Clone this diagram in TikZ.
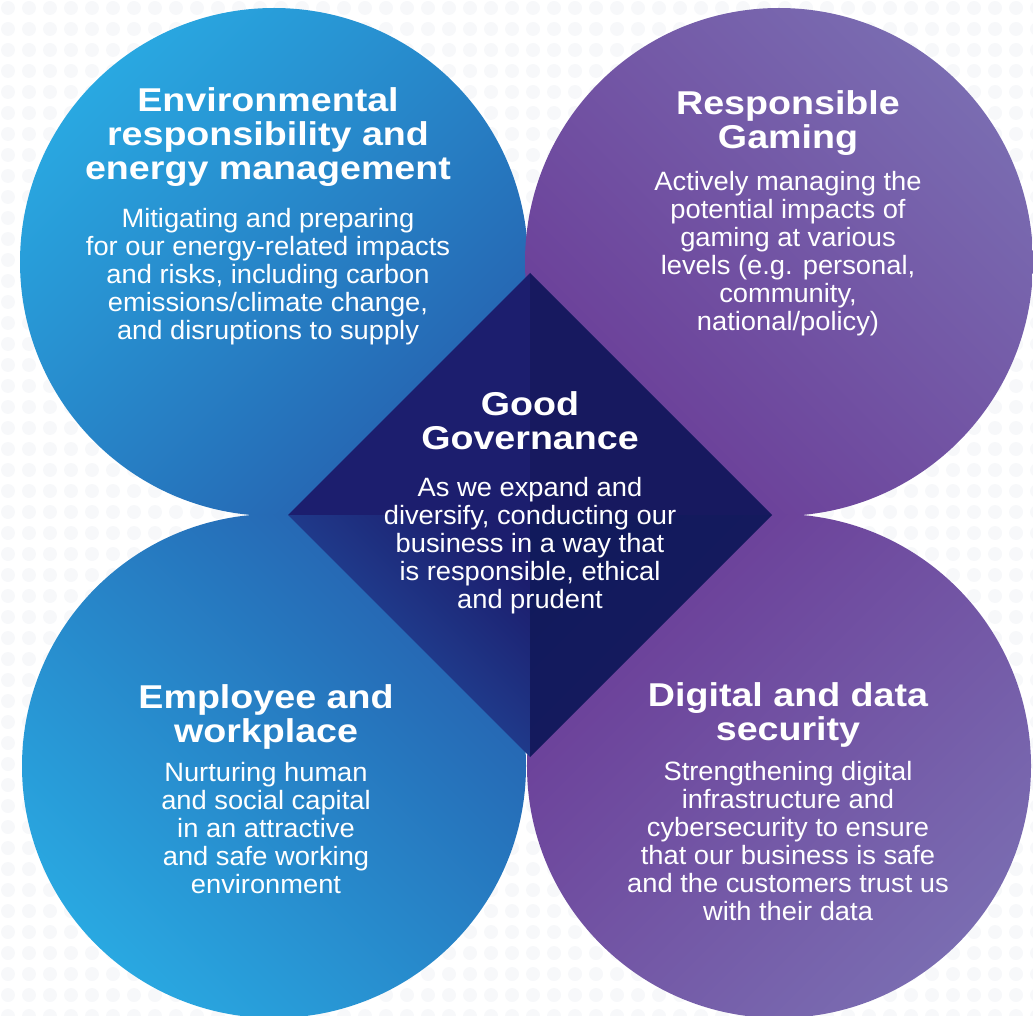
\documentclass[tikz,border=0pt]{standalone}
\usepackage{fontspec}
\setmainfont{Liberation Sans}
\newfontfamily\headfont[FakeStretch=1.14]{Liberation Sans}
\newfontfamily\bodyfont[FakeStretch=1.03]{Liberation Sans}
\usepackage{tikz}

\definecolor{blueLight}{HTML}{29A8E1}
\definecolor{blueDark}{HTML}{2560AE}
\definecolor{purpleLight}{HTML}{7A6CB1}
\definecolor{purpleDark}{HTML}{6A3C97}
\definecolor{navyA}{HTML}{1C1E6E}
\definecolor{navyB}{HTML}{17195F}
\definecolor{navyC}{HTML}{2355A6}
\definecolor{navyD}{HTML}{111A5C}
\definecolor{dotgray}{HTML}{F7F8FA}

\tikzset{
    headtext/.style={text=white, align=center, inner sep=0pt, font=\headfont\bfseries\fontsize{33}{34}\selectfont},
    bodytext/.style={text=white, align=center, inner sep=0pt, font=\bodyfont\fontsize{26.5}{28}\selectfont},
}

\begin{document}
\begin{tikzpicture}[x=1pt,y=-1pt]
        \useasboundingbox (0,0) rectangle (1033,1016);
        \foreach \i in {0,...,49}
            \foreach \j in {0,...,48}
                \fill[dotgray] (8+21*\i, 8+21*\j) circle (7pt);
        % four circles
        \shade[top color=blueLight, bottom color=blueDark, shading angle=45] (274,262) circle (254pt);
        \shade[top color=blueLight, bottom color=blueDark, shading angle=135] (274,766) circle (252pt);
        \shade[top color=purpleLight, bottom color=purpleDark, shading angle=-45] (779,262) circle (254pt);
        \shade[top color=purpleDark, bottom color=purpleLight, shading angle=45] (779,766) circle (252pt);
        % centre diamond
        \coordinate (mid) at (530,515);
        \coordinate (dTop) at (530,273);
        \coordinate (dLeft) at (288,515);
        \coordinate (dRight) at (772,515);
        \coordinate (dBottom) at (530,757);
        \fill[navyA] (mid) -- (dLeft) -- (dTop) -- cycle;
        \fill[navyB] (mid) -- (dTop) -- (dRight) -- cycle;
        \shade[top color=navyA, bottom color=navyC, shading angle=-45] (mid) -- (dBottom) -- (dLeft) -- cycle;
        \shade[top color=navyD, bottom color=navyB, shading angle=45] (mid) -- (dRight) -- (dBottom) -- cycle;
        % texts
        \node[headtext] (envTitle) at (268,137) {Environmental\\responsibility and\\energy management};
        \node[bodytext] (envText) at (268,277) {Mitigating and preparing\\for our energy-related impacts\\and risks, including carbon\\emissions/climate change,\\and disruptions to supply};
        \node[headtext] (gameTitle) at (788,123) {Responsible\\Gaming};
        \node[bodytext] (gameText) at (788,254) {Actively managing the\\potential impacts of\\gaming at various\\levels (e.g. personal,\\community,\\national/policy)};
        \node[headtext] (govTitle) at (530,421) {Good\\Governance};
        \node[bodytext] (govText) at (530,546) {As we expand and\\diversify, conducting our\\business in a way that\\is responsible, ethical\\and prudent};
        \node[headtext] (workTitle) at (266,717) {Employee and\\workplace};
        \node[bodytext] (workText) at (266,828) {Nurturing human\\and social capital\\in an attractive\\and safe working\\environment};
        \node[headtext] (dataTitle) at (788,715) {Digital and data\\security};
        \node[bodytext] (dataText) at (788,841) {Strengthening digital\\infrastructure and\\cybersecurity to ensure\\that our business is safe\\and the customers trust us\\with their data};
    \end{tikzpicture}
\end{document}
